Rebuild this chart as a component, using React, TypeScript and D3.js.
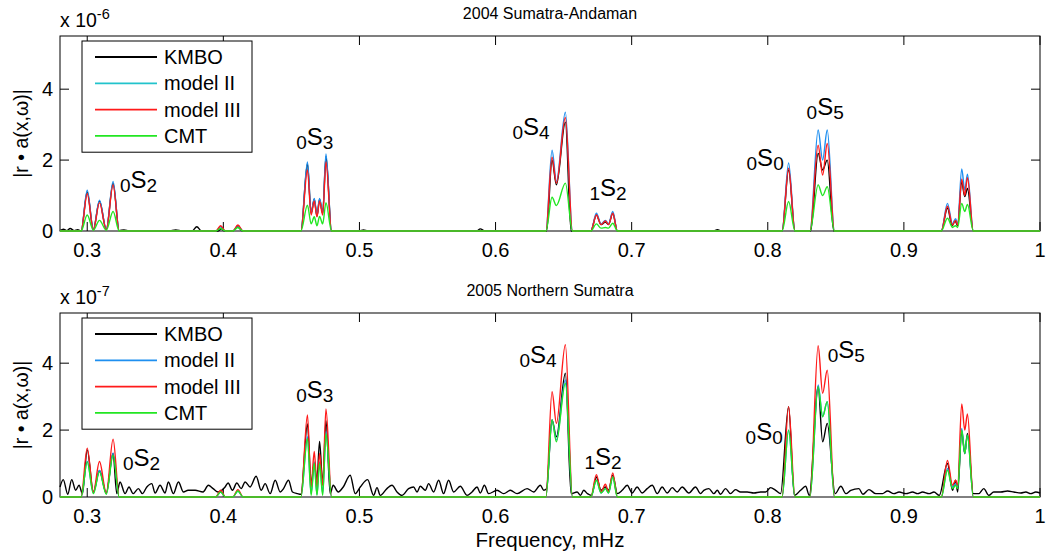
import React from 'react';
import * as d3 from 'd3';

const W = 1047;
const H = 557;
const FONT = '"Liberation Sans", Arial, Helvetica, sans-serif';

// ---------- data ----------
const X_DOMAIN: [number, number] = [0.28, 1.0];
const Y_DOMAIN: [number, number] = [0, 5.5];
const X_TICKS = [0.3, 0.4, 0.5, 0.6, 0.7, 0.8, 0.9, 1.0];
const X_TICK_LABELS = ['0.3', '0.4', '0.5', '0.6', '0.7', '0.8', '0.9', '1'];
const Y_TICKS = [0, 2, 4];
const SERIES_NAMES = ['KMBO', 'model II', 'model III', 'CMT'];

// frequencies (mHz) at which the synthetic spectra were read
const MODEL_FREQ = [
  0.28, 0.2955, 0.3, 0.3045, 0.309, 0.314, 0.319, 0.3235,
  0.3945, 0.398, 0.4015, 0.407, 0.4107, 0.4145,
  0.457, 0.4618, 0.4645, 0.4668, 0.4688, 0.4707, 0.473, 0.4754, 0.4795,
  0.637, 0.6415, 0.6447, 0.6513, 0.6565,
  0.67, 0.6741, 0.6775, 0.6807, 0.683, 0.6861, 0.6895,
  0.8105, 0.8153, 0.82,
  0.831, 0.837, 0.8403, 0.8437, 0.849,
  0.9275, 0.932, 0.9357, 0.938, 0.9395, 0.9425, 0.9447, 0.9467, 0.951, 1.0,
];

// 2004 Sumatra-Andaman (x 1e-6)
const TOP_MODEL2 = [
  0, 0, 1.15, 0.03, 0.87, 0.03, 1.4, 0,
  0, 0.12, 0, 0, 0.15, 0,
  0, 1.95, 0.5, 0.92, 0.45, 0.92, 0.5, 2.17, 0,
  0, 2.28, 1.4, 3.35, 0,
  0, 0.5, 0.2, 0.3, 0.2, 0.55, 0,
  0, 1.92, 0,
  0, 2.85, 2.0, 2.85, 0,
  0, 0.78, 0.2, 0.35, 0.2, 1.75, 1.15, 1.6, 0, 0,
];
const TOP_MODEL3 = [
  0, 0, 1.05, 0.03, 0.8, 0.03, 1.3, 0,
  0, 0.15, 0, 0, 0.17, 0,
  0, 1.72, 0.45, 0.85, 0.4, 0.85, 0.45, 1.95, 0,
  0, 2.08, 1.35, 3.2, 0,
  0, 0.45, 0.18, 0.28, 0.18, 0.5, 0,
  0, 1.77, 0,
  0, 2.42, 1.58, 2.47, 0,
  0, 0.7, 0.17, 0.3, 0.17, 1.46, 1.0, 1.5, 0, 0,
];
const TOP_CMT = [
  0, 0, 0.45, 0.02, 0.3, 0.02, 0.55, 0,
  0, 0.07, 0, 0, 0.1, 0,
  0, 0.73, 0.2, 0.4, 0.15, 0.41, 0.2, 0.8, 0,
  0, 0.95, 0.72, 1.35, 0,
  0, 0.2, 0.08, 0.1, 0.08, 0.22, 0,
  0, 0.83, 0,
  0, 1.3, 1.0, 1.25, 0,
  0, 0.36, 0.1, 0.15, 0.1, 0.78, 0.55, 0.75, 0, 0,
];
const TOP_KMBO: [number, number][] = [
  [0.28, 0.01], [0.2825, 0.05], [0.285, 0.01], [0.2875, 0.07], [0.2905, 0.01], [0.293, 0.04], [0.2955, 0],
  [0.3, 1.1], [0.3045, 0.04], [0.309, 0.85], [0.314, 0.04], [0.319, 1.35], [0.3235, 0.01],
  [0.327, 0.03], [0.331, 0], [0.36, 0], [0.365, 0.03], [0.37, 0],
  [0.377, 0], [0.3805, 0.12], [0.384, 0],
  [0.396, 0], [0.3985, 0.06], [0.401, 0], [0.407, 0], [0.4105, 0.12], [0.414, 0],
  [0.457, 0], [0.4618, 1.9], [0.4645, 0.5], [0.4668, 0.9], [0.4688, 0.42], [0.4707, 0.9], [0.473, 0.5], [0.4754, 2.1], [0.4795, 0],
  [0.5, 0], [0.503, 0.03], [0.506, 0], [0.586, 0], [0.5888, 0.06], [0.592, 0],
  [0.6375, 0], [0.6415, 2.0], [0.6447, 1.3], [0.6513, 3.07], [0.6555, 0],
  [0.67, 0], [0.6741, 0.45], [0.6775, 0.18], [0.6807, 0.25], [0.683, 0.18], [0.6861, 0.5], [0.6895, 0],
  [0.76, 0], [0.763, 0.04], [0.766, 0],
  [0.8105, 0], [0.8153, 1.72], [0.82, 0],
  [0.8315, 0], [0.837, 2.19], [0.8403, 1.72], [0.8437, 2.0], [0.8485, 0],
  [0.9275, 0], [0.932, 0.65], [0.9355, 0.15], [0.9375, 0.3], [0.9395, 0.15], [0.9425, 1.39], [0.9447, 0.97], [0.9467, 1.2], [0.951, 0], [1.0, 0],
];

// 2005 Northern Sumatra (x 1e-7)
const BOT_MODEL2 = [
  0, 0, 1.06, 0.12, 0.79, 0.1, 1.31, 0,
  0, 0.15, 0, 0, 0.18, 0,
  0, 1.8, 0.1, 1.05, 0.08, 1.05, 0.1, 1.95, 0,
  0, 2.3, 1.7, 3.5, 0,
  0, 0.5, 0.12, 0.25, 0.12, 0.6, 0,
  0, 2.0, 0,
  0, 3.35, 2.4, 2.85, 0,
  0, 0.85, 0.3, 0.4, 0.3, 2.05, 1.3, 1.85, 0, 0,
];
const BOT_MODEL3 = [
  0, 0, 1.46, 0.15, 1.06, 0.12, 1.73, 0,
  0, 0.2, 0, 0, 0.22, 0,
  0, 2.45, 0.3, 1.36, 0.3, 1.3, 0.35, 2.63, 0,
  0, 3.15, 2.2, 4.55, 0,
  0, 0.67, 0.15, 0.38, 0.15, 0.72, 0,
  0, 2.7, 0,
  0, 4.52, 3.1, 3.79, 0,
  0, 1.09, 0.35, 0.5, 0.35, 2.78, 2.0, 2.48, 0, 0,
];
const BOT_CMT = [
  0, 0, 1.05, 0.1, 0.75, 0.08, 1.25, 0,
  0, 0.15, 0, 0, 0.18, 0,
  0, 1.75, 0.05, 1.0, 0.05, 1.0, 0.05, 1.9, 0,
  0, 2.3, 1.65, 3.4, 0,
  0, 0.5, 0.12, 0.25, 0.12, 0.6, 0,
  0, 2.0, 0,
  0, 3.3, 2.4, 2.85, 0,
  0, 0.8, 0.25, 0.35, 0.25, 2.0, 1.3, 1.85, 0, 0,
];
const BOT_KMBO: [number, number][] = [
  [0.28, 0.3], [0.2824, 0.52], [0.2857, 0.08], [0.2886, 0.52], [0.2915, 0.2], [0.294, 0.35], [0.2965, 0.1],
  [0.3, 1.41], [0.3045, 0.15], [0.309, 0.79], [0.314, 0.12], [0.319, 1.3],
  [0.3217, 0.1], [0.3241, 0.45], [0.3278, 0.1], [0.3307, 0.3], [0.3337, 0.1], [0.3376, 0.25], [0.3405, 0.1],
  [0.3438, 0.3], [0.3474, 0.4], [0.3499, 0.12], [0.3535, 0.35], [0.3572, 0.12], [0.3596, 0.45], [0.3633, 0.1],
  [0.367, 0.45], [0.3707, 0.15], [0.3741, 0.2], [0.3793, 0.2], [0.3851, 0.15], [0.389, 0.35], [0.3925, 0.25],
  [0.3962, 0.15], [0.4013, 0.3], [0.4035, 0.42], [0.4067, 0.2], [0.4099, 0.42], [0.4131, 0.25], [0.416, 0.45],
  [0.4197, 0.3], [0.4241, 0.62], [0.4278, 0.2], [0.4307, 0.4], [0.4344, 0.1], [0.4381, 0.5], [0.4418, 0.15],
  [0.4442, 0.25], [0.4479, 0.5], [0.4508, 0.15], [0.4545, 0.1], [0.457, 0.08],
  [0.4618, 2.18], [0.4645, 0.4], [0.4668, 1.0], [0.4688, 0.5], [0.4707, 1.66], [0.473, 0.4], [0.4754, 2.28], [0.4785, 0.1],
  [0.4807, 0.35], [0.4844, 0.15], [0.4881, 0.3], [0.4932, 0.65], [0.4969, 0.1], [0.5006, 0.3], [0.506, 0.52],
  [0.5104, 0.05], [0.5129, 0.28], [0.5153, 0.05], [0.5202, 0.25], [0.5239, 0.35], [0.5276, 0.15], [0.5312, 0.05],
  [0.5361, 0.25], [0.5398, 0.3], [0.5423, 0.15], [0.5447, 0.32], [0.5484, 0.2], [0.5508, 0.4], [0.5545, 0.15],
  [0.5582, 0.5], [0.5618, 0.1], [0.5655, 0.5], [0.5692, 0.15], [0.5741, 0.32], [0.579, 0.05], [0.5827, 0.15],
  [0.5864, 0.3], [0.5888, 0.12], [0.5918, 0.35], [0.5949, 0.1], [0.6011, 0.2], [0.606, 0.1], [0.6109, 0.2],
  [0.6158, 0.1], [0.6232, 0.25], [0.628, 0.15], [0.6329, 0.35], [0.6354, 0.2], [0.6375, 0.25],
  [0.6415, 2.3], [0.6447, 1.8], [0.6513, 3.7], [0.6555, 0.1],
  [0.6599, 0.15], [0.6624, 0.05], [0.6648, 0.2], [0.6675, 0.1], [0.6705, 0.05],
  [0.6741, 0.6], [0.6775, 0.2], [0.6807, 0.3], [0.683, 0.2], [0.6861, 0.65], [0.6895, 0.1],
  [0.693, 0.2], [0.6967, 0.35], [0.7004, 0.12], [0.704, 0.3], [0.7077, 0.12], [0.7114, 0.25], [0.7151, 0.35],
  [0.7188, 0.1], [0.7224, 0.3], [0.7261, 0.12], [0.7298, 0.28], [0.7335, 0.15], [0.7371, 0.3], [0.742, 0.12],
  [0.7469, 0.3], [0.7506, 0.1], [0.753, 0.2], [0.7567, 0.25], [0.7604, 0.1], [0.7629, 0.2], [0.7653, 0.08],
  [0.769, 0.25], [0.7726, 0.1], [0.7763, 0.22], [0.78, 0.15], [0.7849, 0.15], [0.7898, 0.12], [0.7947, 0.15],
  [0.7984, 0.15], [0.8021, 0.28], [0.8058, 0.2], [0.8094, 0.1],
  [0.8153, 2.7], [0.8195, 0.05],
  [0.8241, 0.2], [0.8278, 0.32], [0.8305, 0.05],
  [0.837, 3.3], [0.8403, 1.65], [0.8437, 2.2], [0.8495, 0.1],
  [0.8537, 0.32], [0.8574, 0.1], [0.861, 0.2], [0.8669, 0.25], [0.8699, 0.08], [0.8743, 0.22], [0.8794, 0.1],
  [0.8843, 0.1], [0.888, 0.18], [0.8926, 0.1], [0.8965, 0.15], [0.9015, 0.1], [0.9064, 0.15], [0.9101, 0.1],
  [0.9137, 0.15], [0.9186, 0.1], [0.9221, 0.15], [0.926, 0.05],
  [0.932, 1.0], [0.9357, 0.2], [0.938, 0.5], [0.9395, 0.15], [0.9425, 1.95], [0.9447, 1.3], [0.9467, 1.9], [0.951, 0.1],
  [0.955, 0.1], [0.9587, 0.25], [0.9624, 0.05], [0.966, 0.15], [0.9712, 0.15], [0.9761, 0.18], [0.9808, 0.15],
  [0.9859, 0.12], [0.9896, 0.15], [0.9932, 0.1], [0.9969, 0.15], [1.0, 0.12],
];

// mode annotations: [leading subscript, trailing subscript, freq, value]
const TOP_MODES: [string, string, number, number][] = [
  ['0', '2', 0.3241, 1.21],
  ['0', '3', 0.4535, 2.42],
  ['0', '4', 0.6124, 2.7],
  ['1', '2', 0.669, 0.99],
  ['0', '0', 0.7844, 1.83],
  ['0', '5', 0.8285, 3.27],
];
const BOT_MODES: [string, string, number, number][] = [
  ['0', '2', 0.3263, 0.93],
  ['0', '3', 0.4535, 2.96],
  ['0', '4', 0.6175, 4.0],
  ['1', '2', 0.6653, 0.96],
  ['0', '0', 0.7837, 1.7],
  ['0', '5', 0.844, 4.16],
];

// ---------- styles ----------
const C_BLACK = '#000000';
const C_BLUE = '#1e8ff0';
const C_CYAN = '#22c3cc';
const C_RED = '#ff1a1a';
const C_GREEN = '#22e622';

const X_LEFT = 60;
const X_RIGHT = 1040;
const TICK = 9;

type PanelProps = {
  top: number;
  bottom: number;
  title: string;
  exponent: string;
  kmbo: [number, number][];
  m2: number[];
  m3: number[];
  cmt: number[];
  legendM2Color: string;
  modes: [string, string, number, number][];
};

function Panel(p: PanelProps) {
  const x = d3.scaleLinear().domain(X_DOMAIN).range([X_LEFT, X_RIGHT]);
  const y = d3.scaleLinear().domain(Y_DOMAIN).range([p.bottom, p.top]);
  const line = d3
    .line<[number, number]>()
    .x((d) => x(d[0]))
    .y((d) => y(d[1]))
    .curve(d3.curveMonotoneX);
  const zipModel = (vals: number[]) =>
    MODEL_FREQ.map((f, i) => [f, vals[i]] as [number, number]);

  const series = [
    { d: p.kmbo, c: C_BLACK },
    { d: zipModel(p.m2), c: C_BLUE },
    { d: zipModel(p.m3), c: C_RED },
    { d: zipModel(p.cmt), c: C_GREEN },
  ];
  const legendColors = [C_BLACK, p.legendM2Color, C_RED, C_GREEN];
  const lgTop = p.top + 5;
  const lgRow = 26.3;

  return (
    <g>
      {/* title */}
      <text x={550} y={p.top - 17.5} textAnchor="middle" fontSize={16} fontFamily={FONT}>
        {p.title}
      </text>
      {/* exponent */}
      <text x={X_LEFT} y={p.top - 9} fontSize={19.5} fontFamily={FONT}>
        x 10
        <tspan fontSize={14.5} dy={-8}>{p.exponent}</tspan>
      </text>
      {/* box */}
      <rect x={X_LEFT} y={p.top} width={X_RIGHT - X_LEFT} height={p.bottom - p.top} fill="none" stroke="#000" strokeWidth={1} />
      {/* x ticks */}
      {X_TICKS.map((t, i) => (
        <g key={'xt' + i}>
          <line x1={x(t)} x2={x(t)} y1={p.bottom} y2={p.bottom - TICK} stroke="#000" />
          <line x1={x(t)} x2={x(t)} y1={p.top} y2={p.top + TICK} stroke="#000" />
          <text x={x(t)} y={p.bottom + 26} textAnchor="middle" fontSize={20} fontFamily={FONT}>
            {X_TICK_LABELS[i]}
          </text>
        </g>
      ))}
      {/* y ticks */}
      {Y_TICKS.map((t, i) => (
        <g key={'yt' + i}>
          <line x1={X_LEFT} x2={X_LEFT + TICK} y1={y(t)} y2={y(t)} stroke="#000" />
          <line x1={X_RIGHT} x2={X_RIGHT - TICK} y1={y(t)} y2={y(t)} stroke="#000" />
          <text x={53} y={y(t) + 7} textAnchor="end" fontSize={20} fontFamily={FONT}>
            {String(t)}
          </text>
        </g>
      ))}
      {/* y label */}
      <text
        transform={`translate(28,${(p.top + p.bottom) / 2}) rotate(-90)`}
        textAnchor="middle"
        fontSize={19.5}
        fontFamily={FONT}
      >
        |r • a(x,ω)|
      </text>
      {/* curves */}
      {series.map((s, i) => (
        <path key={'s' + i} d={line(s.d) || ''} fill="none" stroke={s.c} strokeWidth={1.4} strokeLinejoin="round" />
      ))}
      {/* mode labels */}
      {p.modes.map((m, i) => (
        <text key={'m' + i} x={x(m[2])} y={y(m[3])} fontSize={24} fontFamily={FONT}>
          <tspan fontSize={19} dy={4}>{m[0]}</tspan>
          <tspan dy={-4}>S</tspan>
          <tspan fontSize={19} dy={4}>{m[1]}</tspan>
        </text>
      ))}
      {/* legend */}
      <rect x={82} y={lgTop} width={170} height={lgRow * 4 + 6} fill="#fff" stroke="#000" strokeWidth={1} />
      {SERIES_NAMES.map((n, i) => {
        const yy = lgTop + 16 + i * lgRow;
        return (
          <g key={'lg' + i}>
            <line x1={95} x2={157} y1={yy} y2={yy} stroke={legendColors[i]} strokeWidth={1.8} />
            <text x={164} y={yy + 7} fontSize={20} fontFamily={FONT}>
              {n}
            </text>
          </g>
        );
      })}
    </g>
  );
}

export default function App() {
  return (
    <svg
      width={W}
      height={H}
      viewBox={`0 0 ${W} ${H}`}
      style={{ position: 'absolute', left: 0, top: 0, background: '#fff' }}
    >
      <rect x={0} y={0} width={W} height={H} fill="#fff" />
      <Panel
        top={36}
        bottom={231}
        title="2004 Sumatra-Andaman"
        exponent="-6"
        kmbo={TOP_KMBO}
        m2={TOP_MODEL2}
        m3={TOP_MODEL3}
        cmt={TOP_CMT}
        legendM2Color={C_CYAN}
        modes={TOP_MODES}
      />
      <Panel
        top={313}
        bottom={497}
        title="2005 Northern Sumatra"
        exponent="-7"
        kmbo={BOT_KMBO}
        m2={BOT_MODEL2}
        m3={BOT_MODEL3}
        cmt={BOT_CMT}
        legendM2Color={C_BLUE}
        modes={BOT_MODES}
      />
      <text x={550} y={547} textAnchor="middle" fontSize={20.5} fontFamily={FONT}>
        Frequency, mHz
      </text>
    </svg>
  );
}
